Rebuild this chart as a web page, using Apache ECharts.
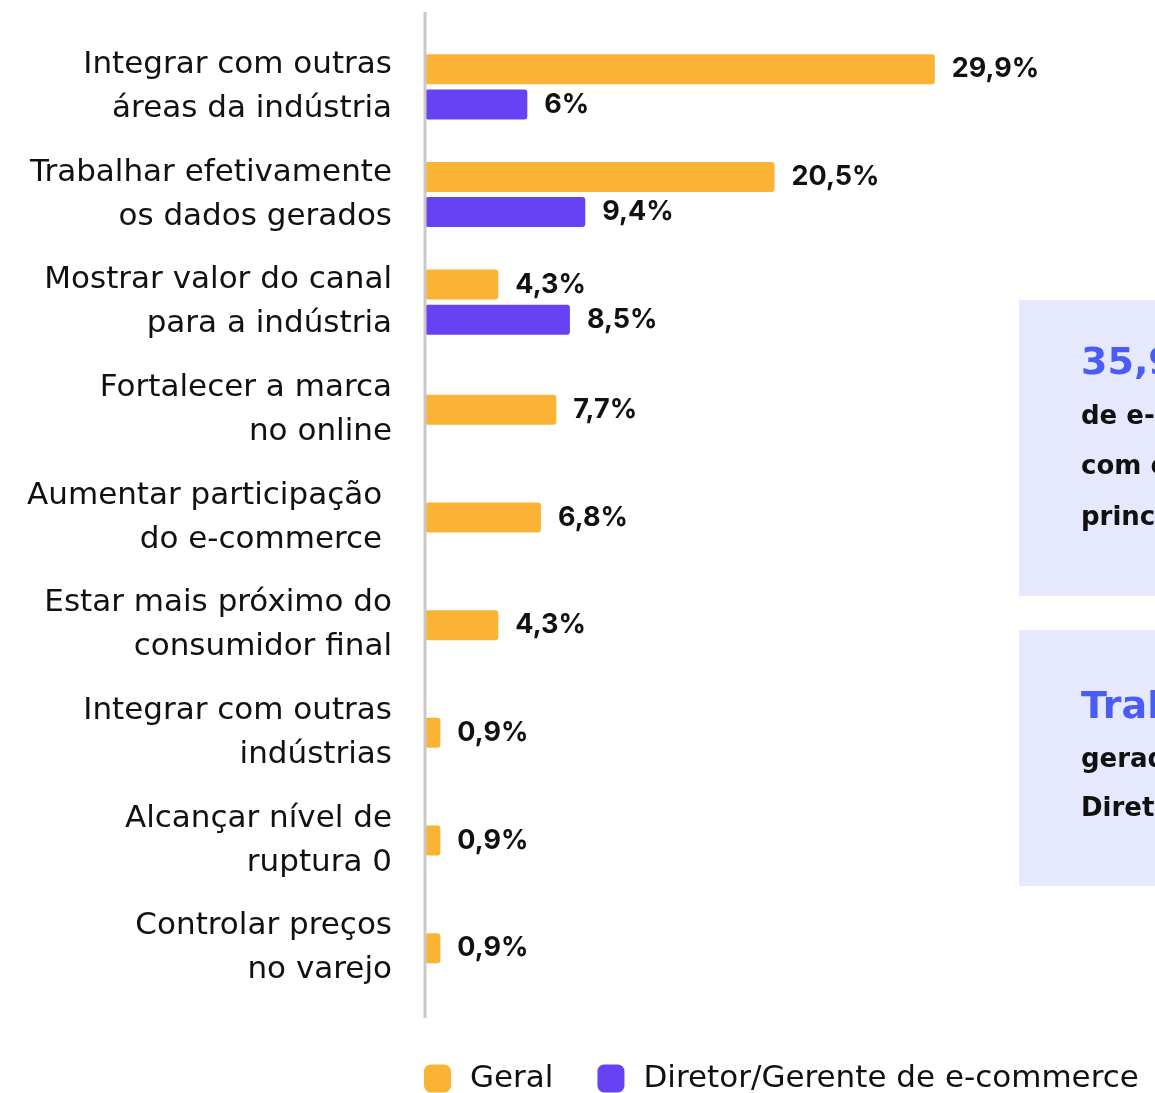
<!DOCTYPE html>
<html>
<head>
<meta charset="utf-8">
<script src="https://cdn.jsdelivr.net/npm/echarts@6/dist/echarts.min.js"></script>
<style>
  html, body { margin: 0; padding: 0; background: #fff; }
  #chart { width: 1155px; height: 1093px; }
</style>
</head>
<body>
<div id="chart"></div>
<script>
const categories = [
    'Integrar com outras\náreas da indústria',
    'Trabalhar efetivamente\nos dados gerados',
    'Mostrar valor do canal\npara a indústria',
    'Fortalecer a marca\nno online',
    'Aumentar participação \ndo e-commerce ',
    'Estar mais próximo do\nconsumidor final',
    'Integrar com outras\nindústrias',
    'Alcançar nível de\nruptura 0',
    'Controlar preços\nno varejo'
];
// Geral, categories where both groups answered (drawn as a pair)
const geralPaired = [29.9, 20.5, 4.3, null, null, null, null, null, null];
// Geral, categories with only one bar (drawn centred)
const geralSingle = [null, null, null, 7.7, 6.8, 4.3, 0.9, 0.9, 0.9];
const diretor = [6, 9.4, 8.5, null, null, null, null, null, null];

const ORANGE = '#FBB336';
const PURPLE = '#6742F5';
const BLUE = '#4A5CF6';
const FONT = 'Inter';
const WIDE = 'DejaVu Sans';

const fmt = (p) => String(p.value).replace('.', ',') + '%';

const valueLabel = {
    show: true, position: 'right', distance: 17,
    fontFamily: FONT, fontSize: 27, fontWeight: 'bold', color: '#111',
    formatter: fmt
};

const boxText = (x, y, text, big) => ({
    type: 'text', x: x, y: y,
    style: {
        text: text, fill: big ? BLUE : '#111',
        fontFamily: WIDE, fontWeight: 'bold', fontSize: big ? 38 : 26
    }
});

const chart = echarts.init(document.getElementById('chart'), null, { renderer: 'canvas' });
chart.setOption({
    animation: false,
    backgroundColor: '#fff',
    textStyle: { fontFamily: FONT },
    grid: { left: 425, right: 48, top: 33, bottom: 91 },
    xAxis: { type: 'value', min: 0, max: 40, show: false },
    yAxis: [
        {
            type: 'category', inverse: true, data: categories,
            axisLine: { show: false }, axisTick: { show: false },
            axisLabel: { margin: 33, fontFamily: WIDE, fontSize: 31, lineHeight: 44, color: '#111', align: 'right' }
        },
        { type: 'category', inverse: true, data: categories, show: false }
    ],
    legend: {
        left: 424, top: 1063, width: 800, padding: 0,
        data: ['Geral', 'Diretor/Gerente de e-commerce'],
        icon: 'roundRect', itemWidth: 27, itemHeight: 28, itemGap: 44,
        textStyle: { fontFamily: WIDE, fontSize: 31, color: '#111', padding: [0, 0, 0, 14] }
    },
    graphic: [
        { type: 'line', shape: { x1: 425, y1: 12, x2: 425, y2: 1018 }, style: { stroke: '#C8C8C8', lineWidth: 3 }, z: 10 },
        {
            type: 'group', left: 1019, top: 300, children: [
                { type: 'rect', shape: { x: 0, y: 0, width: 200, height: 296 }, style: { fill: '#E6E8FD' } },
                boxText(62, 45, '35,9%', true),
                boxText(62, 104, 'de e-commerce', false),
                boxText(62, 154, 'com outras áreas', false),
                boxText(62, 205, 'principal desafio', false)
            ]
        },
        {
            type: 'group', left: 1019, top: 630, children: [
                { type: 'rect', shape: { x: 0, y: 0, width: 200, height: 256 }, style: { fill: '#E6E8FD' } },
                boxText(62, 59, 'Trabalhar os dados', true),
                boxText(62, 117, 'gerados é desafio', false),
                boxText(62, 166, 'Diretores/Gerentes', false)
            ]
        }
    ],
    series: [
        {
            name: 'Geral', type: 'bar', yAxisIndex: 0, data: geralPaired,
            barWidth: 30, barGap: '17%', itemStyle: { color: ORANGE, borderRadius: 3 },
            label: valueLabel
        },
        {
            name: 'Diretor/Gerente de e-commerce', type: 'bar', yAxisIndex: 0, data: diretor,
            barWidth: 30, itemStyle: { color: PURPLE, borderRadius: 3 },
            label: valueLabel
        },
        {
            name: 'Geral', type: 'bar', yAxisIndex: 1, data: geralSingle,
            barWidth: 30, itemStyle: { color: ORANGE, borderRadius: 3 },
            label: valueLabel
        }
    ]
});
</script>
</body>
</html>
